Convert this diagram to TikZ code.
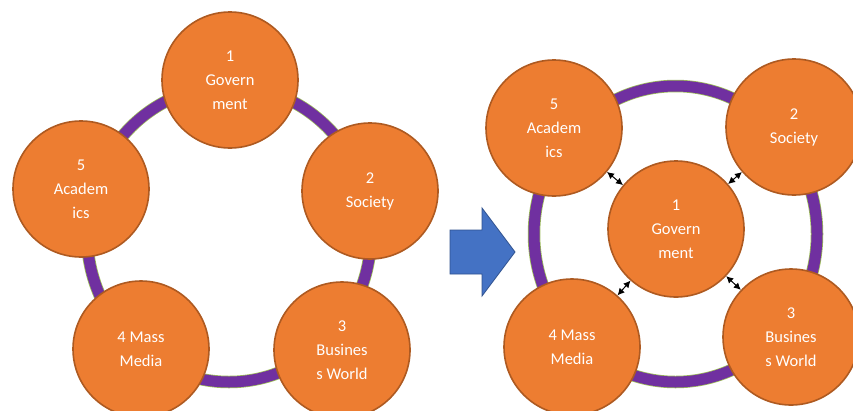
\documentclass[tikz,border=0pt]{standalone}
\usepackage{fontspec}
\setmainfont{Carlito}
\usetikzlibrary{arrows.meta}
\definecolor{orfill}{HTML}{ED7D31}
\definecolor{ordraw}{HTML}{AE5A21}
\definecolor{ringpurple}{HTML}{7030A0}
\definecolor{ringgreen}{HTML}{9BBB59}
\definecolor{bluefill}{HTML}{4472C4}
\definecolor{bluedraw}{HTML}{2F528F}
\tikzset{
  actor/.style={circle, fill=orfill, draw=ordraw, line width=1.6pt, minimum size=136pt, inner sep=0pt,
    text=white, align=center, font=\fontsize{16.5pt}{24pt}\selectfont},
  ringedge/.style={draw=ringgreen, line width=12.5pt},
  ringcore/.style={draw=ringpurple, line width=11pt},
  link/.style={{Latex[length=7pt,width=7pt]}-{Latex[length=7pt,width=7pt]}, line width=1pt, black},
  bigarrow/.style={fill=bluefill, draw=bluedraw, line width=0.8pt}
}
\begin{document}
\begin{tikzpicture}[x=1pt,y=-1pt]
\useasboundingbox (0,0) rectangle (853,410);
% left ring
\draw[ringedge] (229,234) ellipse [x radius=142, y radius=148];
\draw[ringcore] (229,234) ellipse [x radius=142, y radius=148];
% left circles
\node[actor] (l1) at (230,80) {1\\Govern\\ment};
\node[actor] (l2) at (370,191) {2\\Society};
\node[actor] (l3) at (342,350) {3\\Busines\\s World};
\node[actor] (l4) at (141,349) {4 Mass\\Media};
\node[actor] (l5) at (81,189) {5\\Academ\\ics};
% blue arrow
\coordinate (a1) at (450,230);
\coordinate (a2) at (482,230);
\coordinate (a3) at (482,208);
\coordinate (a4) at (515,252);
\coordinate (a5) at (482,296);
\coordinate (a6) at (482,274);
\coordinate (a7) at (450,274);
\draw[bigarrow] (a1) -- (a2) -- (a3) -- (a4) -- (a5) -- (a6) -- (a7) -- cycle;
% right ring
\draw[ringedge] (675.5,234) ellipse [x radius=141.5, y radius=148];
\draw[ringcore] (675.5,234) ellipse [x radius=141.5, y radius=148];
% right circles
\node[actor] (r5) at (554,128) {5\\Academ\\ics};
\node[actor] (r2) at (794,127) {2\\Society};
\node[actor] (r1) at (676,229) {1\\Govern\\ment};
\node[actor] (r4) at (572,347) {4 Mass\\Media};
\node[actor] (r3) at (791,337) {3\\Busines\\s World};
% links
\draw[link] (r5) -- (r1);
\draw[link] (r2) -- (r1);
\draw[link] (r4) -- (r1);
\draw[link] (r3) -- (r1);
\end{tikzpicture}
\end{document}
